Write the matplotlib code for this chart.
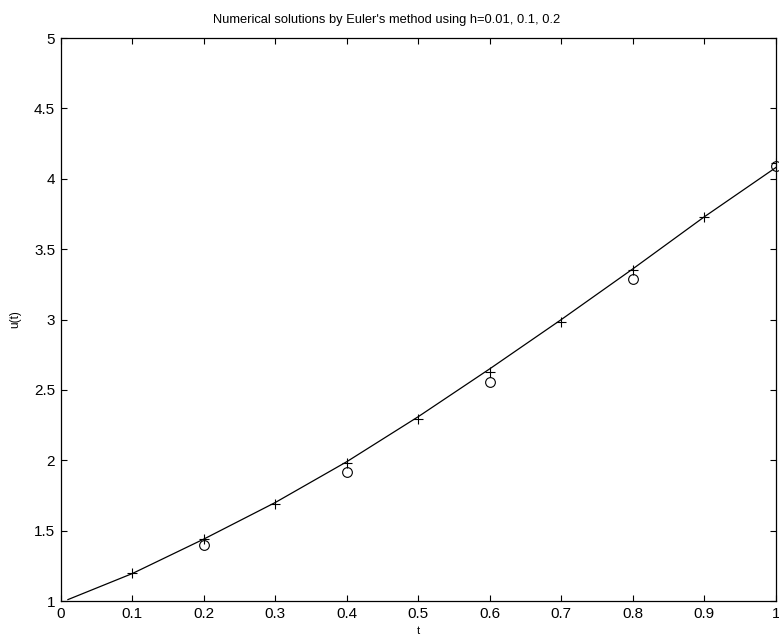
import matplotlib.pyplot as plt

plt.rcParams['font.family'] = ['Liberation Sans', 'DejaVu Sans']

# h = 0.01 solution (line)
t_fine = [0.01, 0.1, 0.2, 0.3, 0.4, 0.5, 0.6, 0.7, 0.8, 0.9, 1.0]
u_fine = [1.01, 1.195, 1.44, 1.70, 1.99, 2.31, 2.65, 3.00, 3.36, 3.73, 4.08]

# h = 0.1 (plus markers)
t_h1 = [0.1, 0.2, 0.3, 0.4, 0.5, 0.6, 0.7, 0.8, 0.9, 1.0]
u_h1 = [1.20, 1.44, 1.69, 1.98, 2.29, 2.63, 2.98, 3.355, 3.73, 4.11]

# h = 0.2 (circle markers)
t_h2 = [0.2, 0.4, 0.6, 0.8, 1.0]
u_h2 = [1.40, 1.92, 2.555, 3.29, 4.09]

xticks = [0, 0.1, 0.2, 0.3, 0.4, 0.5, 0.6, 0.7, 0.8, 0.9, 1]
xticklabels = ['0', '0.1', '0.2', '0.3', '0.4', '0.5', '0.6', '0.7', '0.8', '0.9', '1']
yticks = [1, 1.5, 2, 2.5, 3, 3.5, 4, 4.5, 5]
yticklabels = ['1', '1.5', '2', '2.5', '3', '3.5', '4', '4.5', '5']

fig = plt.figure(figsize=(7.79, 6.37), dpi=100)
ax = fig.add_axes([0.078, 0.0565, 0.918, 0.8838])

ax.plot(t_fine, u_fine, color='black', linewidth=0.9)
ax.plot(t_h1, u_h1, linestyle='none', marker='+', markersize=7,
        markeredgewidth=0.8, color='black')
ax.plot(t_h2, u_h2, linestyle='none', marker='o', markersize=7,
        markeredgewidth=0.8, markerfacecolor='none', markeredgecolor='black',
        clip_on=False)

ax.set_xlim(0, 1)
ax.set_ylim(1, 5)
ax.set_xticks(xticks)
ax.set_xticklabels(xticklabels)
ax.set_yticks(yticks)
ax.set_yticklabels(yticklabels)
ax.tick_params(direction='in', length=4, width=0.8, labelsize=11,
               top=True, right=True, pad=4)
for s in ax.spines.values():
    s.set_linewidth(0.9)

# title sits a little left of the axes centre in the original
ax.set_title("Numerical solutions by Euler's method using h=0.01, 0.1, 0.2",
             fontsize=9.3, pad=11, x=0.456)
ax.set_xlabel('t', fontsize=8, labelpad=4)
ax.set_ylabel('u(t)', fontsize=8.5, labelpad=9)

plt.savefig('out.png', dpi=100, facecolor='white')
